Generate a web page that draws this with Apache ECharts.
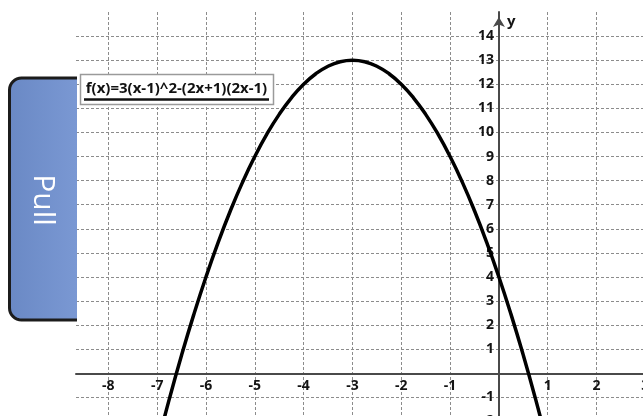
<!DOCTYPE html>
<html>
<head>
<meta charset="utf-8">
<script src="https://cdn.jsdelivr.net/npm/echarts@6/dist/echarts.min.js"></script>
<style>
  html, body { margin: 0; padding: 0; background: #ffffff; }
  #chart { width: 643px; height: 416px; }
</style>
</head>
<body>
<div id="chart"></div>
<script>
// f(x) = 3(x-1)^2 - (2x+1)(2x-1), read every quarter unit along the curve
const formulaText = 'f(x)=3(x-1)^2-(2x+1)(2x-1)';
const xValues = [-7, -6.75, -6.5, -6.25, -6, -5.75, -5.5, -5.25, -5, -4.75, -4.5, -4.25, -4,
  -3.75, -3.5, -3.25, -3, -2.75, -2.5, -2.25, -2, -1.75, -1.5, -1.25, -1, -0.75, -0.5, -0.25,
  0, 0.25, 0.5, 0.75, 1];
const yValues = [-3, -1.0625, 0.75, 2.4375, 4, 5.4375, 6.75, 7.9375, 9, 9.9375, 10.75, 11.4375, 12,
  12.4375, 12.75, 12.9375, 13, 12.9375, 12.75, 12.4375, 12, 11.4375, 10.75, 9.9375, 9, 7.9375, 6.75, 5.4375,
  4, 2.4375, 0.75, -1.0625, -3];

// visible window of the coordinate plane
const xExtent = [-8.662, 3.361];
const yExtent = [-2, 15];
const axisName = 'y';
const tabLabel = 'Pull';

const curve = xValues.map((x, i) => [x, yValues[i]]);

// outline of the side tab: open on the right, rounded on the left
function tabOutline(left, right, top, bottom, r) {
  const pts = [[right, top], [left + r, top]];
  const steps = 8;
  for (let i = 1; i <= steps; i++) {
    const a = -Math.PI / 2 - (Math.PI / 2) * i / steps;
    pts.push([left + r + r * Math.cos(a), top + r + r * Math.sin(a)]);
  }
  for (let i = 0; i <= steps; i++) {
    const a = Math.PI - (Math.PI / 2) * i / steps;
    pts.push([left + r + r * Math.cos(a), bottom - r + r * Math.sin(a)]);
  }
  pts.push([right, bottom]);
  return pts;
}
const tabPts = tabOutline(9.5, 77, 78, 320, 12);

const labelFont = { fontFamily: 'Open Sans', fontWeight: 'bold', fontSize: 14, color: '#141414' };
const gridLine = { show: true, showMinLine: false, showMaxLine: false,
  lineStyle: { color: '#8c8c8c', width: 1, type: [3, 2] } };
const axisStroke = { color: '#4a4a4a', width: 2 };

const chart = echarts.init(document.getElementById('chart'), null, { renderer: 'canvas' });

chart.setOption({
  animation: false,
  backgroundColor: '#ffffff',
  grid: { left: 76, right: -20, top: 12, bottom: -5.5, containLabel: false, outerBoundsMode: 'none' },
  xAxis: {
    type: 'value',
    position: 'bottom',
    min: xExtent[0], max: xExtent[1],
    minInterval: 1, maxInterval: 1,
    axisLine: { show: true, onZero: false, lineStyle: axisStroke },
    axisTick: { show: false },
    splitLine: gridLine,
    axisLabel: Object.assign({}, labelFont, {
      margin: 6,
      showMinLabel: false, showMaxLabel: true, hideOverlap: false,
      formatter: v => (Number.isInteger(v) && v !== 0) ? String(v) : ''
    })
  },
  yAxis: {
    type: 'value',
    position: 'left',
    min: yExtent[0], max: yExtent[1],
    minInterval: 1, maxInterval: 1,
    name: axisName,
    nameLocation: 'end',
    nameGap: -10,
    nameTextStyle: { fontFamily: 'Open Sans', fontWeight: 'bold', fontSize: 15, color: '#141414',
      align: 'left', verticalAlign: 'middle', padding: [0, 0, 0, 8] },
    axisLine: { show: true, onZero: false, lineStyle: axisStroke,
      symbol: ['none', 'arrow'], symbolSize: [9, 10], symbolOffset: [0, -5] },
    axisTick: { show: false },
    splitLine: gridLine,
    axisLabel: Object.assign({}, labelFont, {
      margin: 5, padding: [3, 0, 0, 0],
      showMaxLabel: false, hideOverlap: false,
      formatter: v => (Number.isInteger(v) && v !== 0 && v !== yExtent[1]) ? String(v) : ''
    })
  },
  series: [{
    type: 'line',
    data: curve,
    smooth: true,
    showSymbol: false,
    clip: true,
    lineStyle: { color: '#000000', width: 3.5 },
    z: 5
  }],
  graphic: [
    // side tab
    {
      type: 'polygon', z: 100,
      shape: { points: tabPts },
      style: { fill: {
        type: 'linear', x: 0, y: 0, x2: 1, y2: 0,
        colorStops: [{ offset: 0, color: '#6a89c5' }, { offset: 1, color: '#7a98d3' }]
      } }
    },
    {
      type: 'polyline', z: 101,
      shape: { points: tabPts },
      style: { fill: null, stroke: '#1c1c1c', lineWidth: 3 }
    },
    {
      type: 'text', z: 102,
      x: 43, y: 200, rotation: -Math.PI / 2,
      style: {
        text: tabLabel, fill: '#ffffff', fontFamily: 'Open Sans', fontSize: 30,
        align: 'center', verticalAlign: 'middle',
        shadowColor: 'rgba(0,0,0,0.85)', shadowOffsetX: -1.5, shadowOffsetY: 0, shadowBlur: 0
      }
    },
    // formula box
    {
      type: 'rect', z: 100,
      shape: { x: 80.5, y: 74.5, width: 193, height: 30 },
      style: { fill: '#ffffff', stroke: '#9a9a9a', lineWidth: 1.5 }
    },
    {
      type: 'text', z: 101,
      x: 176.5, y: 89,
      style: { text: formulaText, fill: '#111111', fontFamily: 'Open Sans', fontWeight: 'bold', fontSize: 15,
        align: 'center', verticalAlign: 'middle' }
    },
    {
      type: 'line', z: 101,
      shape: { x1: 84, y1: 99.5, x2: 269, y2: 99.5 },
      style: { stroke: '#111111', lineWidth: 2.5 }
    }
  ]
});

// move both axes so they cross at the origin, using the chart's own scales
const x0 = chart.convertToPixel({ xAxisIndex: 0 }, 0);
const xLeft = chart.convertToPixel({ xAxisIndex: 0 }, xExtent[0]);
const y0 = chart.convertToPixel({ yAxisIndex: 0 }, 0);
const yBottom = chart.convertToPixel({ yAxisIndex: 0 }, yExtent[0]);
chart.setOption({
  xAxis: { offset: -(yBottom - y0) },
  yAxis: { offset: -(x0 - xLeft) }
});
</script>
</body>
</html>
